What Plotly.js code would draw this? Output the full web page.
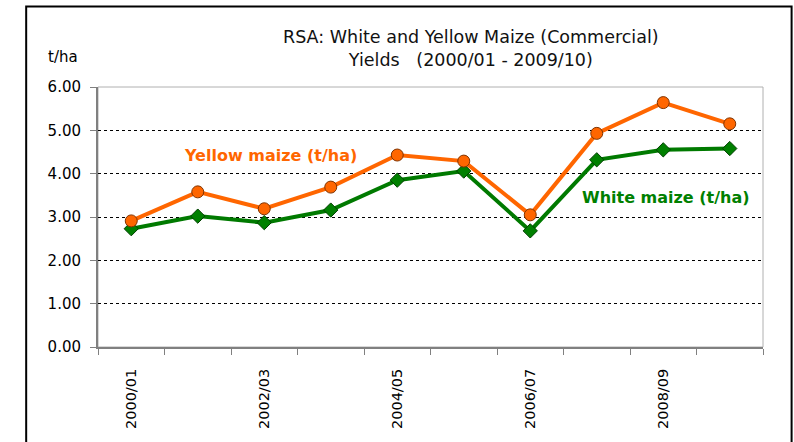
<!DOCTYPE html>
<html>
<head>
<meta charset="utf-8">
<script src="https://cdn.plot.ly/plotly-3.0.1.min.js"></script>
<style>html,body{margin:0;padding:0;background:#fff;}#chart{width:794px;height:442px;}</style>
</head>
<body>
<div id="chart"></div>
<script>
const seasons = ['2000/01','2001/02','2002/03','2003/04','2004/05','2005/06','2006/07','2007/08','2008/09','2009/10'];
const yellowMaize = [2.91, 3.58, 3.19, 3.69, 4.43, 4.29, 3.05, 4.93, 5.64, 5.15];
const whiteMaize  = [2.73, 3.02, 2.87, 3.16, 3.85, 4.06, 2.68, 4.32, 4.55, 4.58];
const yTicks = [0, 1, 2, 3, 4, 5, 6];
const xLabelSeasons = ['2000/01','2002/03','2004/05','2006/07','2008/09'];

const xPos = seasons.map((s, i) => i + 1);
const labelPos = xLabelSeasons.map(s => seasons.indexOf(s) + 1);

const traces = [
  {
    x: xPos, y: whiteMaize, type: 'scatter', mode: 'lines+markers', name: 'White maize (t/ha)',
    line: {color: '#007a00', width: 4},
    marker: {symbol: 'diamond', size: 11, color: '#008000', line: {color: '#004000', width: 1}}
  },
  {
    x: xPos, y: yellowMaize, type: 'scatter', mode: 'lines+markers', name: 'Yellow maize (t/ha)',
    line: {color: '#ff6600', width: 4},
    marker: {symbol: 'circle', size: 12, color: '#ff6600', line: {color: '#803300', width: 1}}
  }
];

const layout = {
  width: 794, height: 442,
  margin: {l: 98, r: 31, t: 87, b: 95},
  paper_bgcolor: '#ffffff', plot_bgcolor: '#ffffff',
  showlegend: false,
  font: {family: 'DejaVu Sans, Verdana, sans-serif', color: '#000'},
  title: {
    text: 'RSA: White and Yellow Maize (Commercial)<br>Yields   (2000/01 - 2009/10)',
    font: {family: 'DejaVu Sans, sans-serif', size: 17.5, color: '#111', lineposition: 'none'},
    x: 0.593, xanchor: 'center', y: 0.902, yanchor: 'middle'
  },
  xaxis: {
    range: [0.5, 10.5], tickmode: 'array', tickvals: labelPos, ticktext: xLabelSeasons,
    tickangle: -90, ticks: '', ticklabelstandoff: 14,
    tickfont: {size: 14.5, color: '#000'},
    showgrid: false, zeroline: false,
    showline: true, linecolor: '#808080', linewidth: 2, mirror: false,
    minor: {tick0: 0.5, dtick: 1, ticks: 'outside', ticklen: 6, tickcolor: '#808080', tickwidth: 1, showgrid: false},
    fixedrange: true
  },
  yaxis: {
    range: [0, 6], tickmode: 'array', tickvals: yTicks, ticktext: yTicks.map(v => v.toFixed(2)),
    ticks: 'outside', ticklen: 6, tickcolor: '#808080', ticklabelstandoff: 6,
    tickfont: {size: 15, color: '#000'},
    showgrid: true, gridcolor: '#000', gridwidth: 1, griddash: 'dot',
    zeroline: false, showline: true, linecolor: '#808080', linewidth: 2,
    fixedrange: true
  },
  shapes: [
    {type: 'rect', xref: 'paper', yref: 'paper', x0: 0, x1: 1, y0: 0, y1: 1,
     line: {color: '#b0b0b0', width: 1}, layer: 'below'},
    {type: 'rect', xref: 'paper', yref: 'paper', x0: -0.108, x1: 1.043, y0: -0.5, y1: 1.31,
     line: {color: '#000', width: 2}}
  ],
  annotations: [
    {text: 't/ha', xref: 'paper', yref: 'paper', x: -0.053, y: 1.115, xanchor: 'center', yanchor: 'middle',
     showarrow: false, font: {size: 15, color: '#000'}},
    {text: '<b>Yellow maize (t/ha)</b>', xref: 'x', yref: 'y', x: 3.09, y: 4.43, xanchor: 'center', yanchor: 'middle',
     showarrow: false, font: {size: 16, color: '#ff6600'}},
    {text: '<b>White maize (t/ha)</b>', xref: 'x', yref: 'y', x: 9.04, y: 3.46, xanchor: 'center', yanchor: 'middle',
     showarrow: false, font: {size: 16, color: '#008000'}}
  ]
};

Plotly.newPlot('chart', traces, layout, {displayModeBar: false, staticPlot: true});
</script>
</body>
</html>
